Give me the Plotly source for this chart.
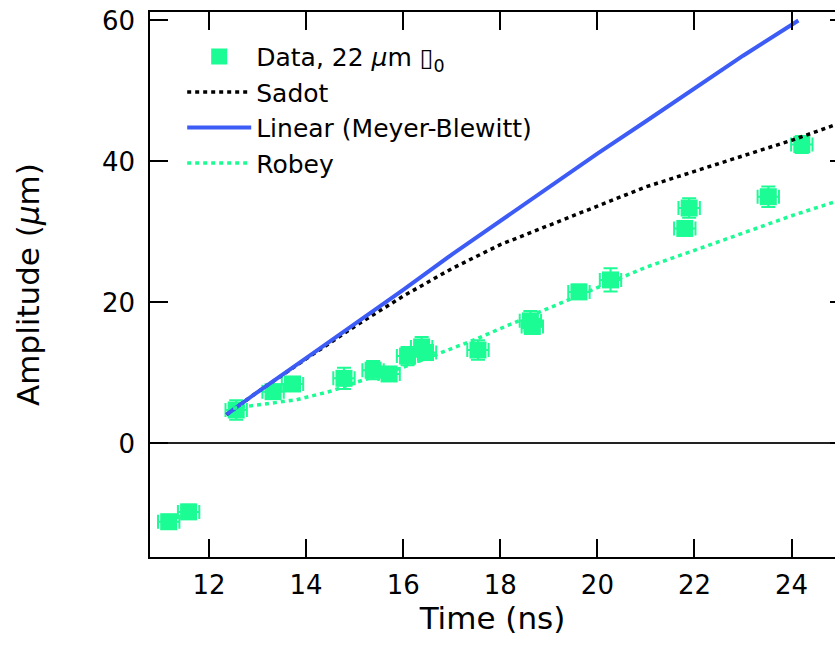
import plotly.graph_objects as go

# ---- data ----
data_t = [11.17, 11.58, 12.56, 13.32, 13.72, 14.78, 15.38, 15.71, 16.09, 16.38, 16.46,
          17.54, 18.62, 18.66, 19.62, 20.27, 21.80, 21.89, 23.52, 24.21]
data_a = [-11.1, -9.7, 4.75, 7.35, 8.44, 9.24, 10.4, 9.86, 12.4, 13.7, 12.9,
          13.26, 17.4, 16.6, 21.5, 23.2, 30.5, 33.4, 35.0, 42.4]
data_terr = [0.22] * len(data_t)
data_aerr = [1.0, 1.0, 1.4, 1.0, 1.0, 1.5, 1.3, 1.0, 1.3, 1.4, 1.0,
             1.4, 1.4, 1.0, 1.0, 1.65, 1.0, 1.4, 1.45, 1.2]

lin_t = [12.36, 13, 14, 15, 16, 17, 18, 19, 20, 21, 22, 23, 24.14]
lin_a = [4.1, 7.3, 12.1, 16.9, 21.8, 26.8, 31.6, 36.4, 41.1, 45.7, 50.3, 55.0, 60.0]

sadot_t = [12.36, 13, 14, 15, 16, 17, 18, 19, 20, 21, 22, 23, 24, 24.9]
sadot_a = [4.1, 7.3, 12.0, 16.6, 20.9, 24.8, 28.2, 30.9, 33.6, 36.4, 38.6, 40.8, 43.0, 45.2]

robey_t = [12.5, 13, 13.8, 14.5, 15, 16, 16.8, 17.5, 18, 19, 20, 21, 22, 23, 24, 24.9]
robey_a = [5.0, 5.5, 6.2, 7.4, 8.6, 10.8, 12.9, 14.8, 16.3, 19.2, 22.0, 25.0, 27.4, 29.8, 32.3, 34.3]

x_ticks = [12, 14, 16, 18, 20, 22, 24]
y_ticks = [0, 20, 40, 60]

GREEN = "#1cfc94"
BLUE = "#3d5cf5"
FONT = "DejaVu Sans"
FS = 26

fig = go.Figure()
fig.add_trace(go.Scatter(
    x=data_t, y=data_a, mode="markers",
    name="Data, 22 <i>μ</i>m ▯<sub>0</sub>",
    marker=dict(symbol="square", size=17, color=GREEN),
    error_x=dict(type="data", array=data_terr, color=GREEN, thickness=2, width=7),
    error_y=dict(type="data", array=data_aerr, color=GREEN, thickness=2, width=7),
))
fig.add_trace(go.Scatter(
    x=sadot_t, y=sadot_a, mode="lines", name="Sadot",
    line=dict(color="black", width=3.5, dash="4px,4px"),
))
fig.add_trace(go.Scatter(
    x=lin_t, y=lin_a, mode="lines", name="Linear (Meyer-Blewitt)",
    line=dict(color=BLUE, width=4),
))
fig.add_trace(go.Scatter(
    x=robey_t, y=robey_a, mode="lines", name="Robey",
    line=dict(color=GREEN, width=3.5, dash="4px,4px"),
))
# invisible trace to carry the right-hand tick axis
fig.add_trace(go.Scatter(x=[12], y=[0], yaxis="y2", mode="markers",
                         marker=dict(opacity=0), showlegend=False, hoverinfo="skip"))

yr = [-16.1, 61.2]
fig.update_layout(
    width=835, height=659,
    margin=dict(l=150, r=0, t=12, b=102),
    paper_bgcolor="white", plot_bgcolor="white",
    font=dict(family=FONT, size=FS, color="black"),
    showlegend=True,
    legend=dict(x=0.047, y=0.96, xanchor="left", yanchor="top", itemwidth=64,
                bgcolor="rgba(0,0,0,0)", font=dict(size=25), tracegroupgap=0),
    xaxis=dict(
        range=[10.785, 24.894], tickvals=x_ticks, ticks="inside", ticklen=18,
        tickwidth=1.5, tickcolor="black", showline=True, linecolor="black",
        linewidth=1.5, mirror="ticks", showgrid=False, zeroline=False,
        automargin=False, ticklabelstandoff=4, ticklabeloverflow="allow",
        title=dict(text="Time (ns)", standoff=2),
    ),
    yaxis=dict(
        range=yr, tickvals=y_ticks, ticks="inside", ticklen=18,
        tickwidth=1.5, tickcolor="black", showline=True, linecolor="black",
        linewidth=1.5, mirror=False, showgrid=False,
        zeroline=True, zerolinecolor="#222", zerolinewidth=1.5,
        ticklabelstandoff=8, automargin=False, ticklabeloverflow="allow",
        title=dict(text="Amplitude (<i>μ</i>m)", standoff=53),
    ),
    yaxis2=dict(
        range=yr, tickvals=y_ticks, overlaying="y", side="right",
        ticks="inside", ticklen=5, tickwidth=1.5, tickcolor="black",
        showticklabels=False, showline=False, showgrid=False, zeroline=False,
        automargin=False,
    ),
)

# remove the default 8px page margin so the figure fills the window exactly
fig.write_html("out.html",
               config={"displayModeBar": False},
               post_script="document.body.style.margin='0';document.body.style.overflow='hidden';")
